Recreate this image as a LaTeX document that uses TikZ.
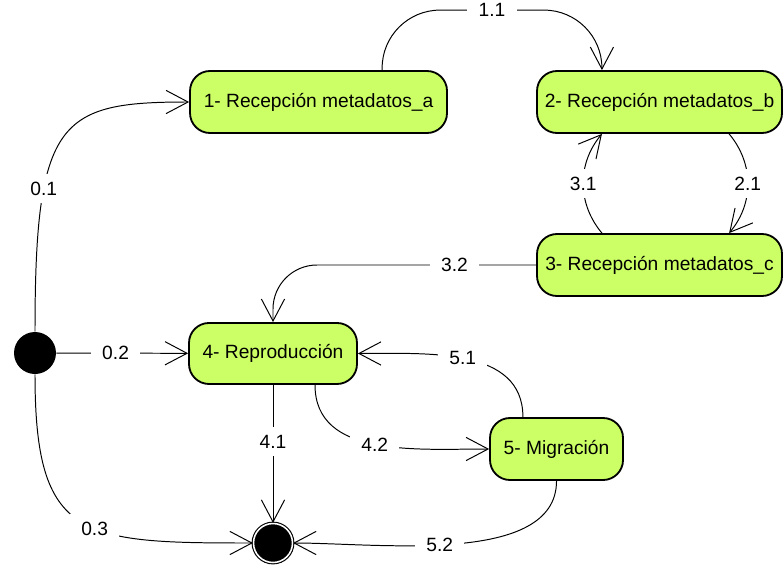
\documentclass[tikz,border=0pt]{standalone}
\usepackage{fontspec}
\setmainfont{Liberation Sans}
\usetikzlibrary{arrows.meta}
\definecolor{verdeestado}{RGB}{204,255,102}
\tikzset{
  estado/.style={draw=black, line width=1.3pt, fill=verdeestado, rounded corners=0.5cm,
    minimum height=1.55cm, inner sep=0pt},
  inicio/.style={circle, fill=black, minimum size=1.05cm, inner sep=0pt},
  fin/.style={circle, draw=black, fill=black, line width=0.8pt, double=white,
    double distance=1.1pt, minimum size=0.975cm, inner sep=0pt},
  trans/.style={->, line width=0.7pt},
  etiq/.style={fill=white, inner xsep=0.28cm, inner ysep=0.19cm, rounded corners=0pt}
}

\begin{document}
\begin{tikzpicture}[font=\fontsize{13.66}{16}\selectfont,
  >={Straight Barb[length=0.55cm, width=0.58cm]}]
\useasboundingbox (0,0) rectangle (19.6,14.1);
\node[inicio] (ini) at (0.875,5.275) {};
\node[estado, minimum width=6.425cm] (e1) at (7.963,11.550) {1- Recepción metadatos\_a};
\node[estado, minimum width=6.125cm] (e2) at (16.488,11.550) {2- Recepción metadatos\_b};
\node[estado, minimum width=6.125cm] (e3) at (16.488,7.475) {3- Recepción metadatos\_c};
\node[estado, minimum width=4.200cm, minimum height=1.525cm] (e4) at (6.825,5.263) {4- Reproducción};
\node[estado, minimum width=3.325cm] (e5) at (13.913,2.875) {5- Migración};
\node[fin] (fin) at (6.825,0.525) {};
\draw[trans] (ini.north) .. controls +(0,5.3) and +(-3.25,0) .. node[etiq,pos=0.3]{0.1} (e1.west);
\draw[trans] (ini) -- node[etiq,pos=0.45]{0.2} (e4);
\draw[trans] (ini.south) .. controls +(0,-4.15) and +(-4.3,0) .. node[etiq,pos=0.57]{0.3} (fin.west);
\draw[trans, rounded corners=1.45cm] ([xshift=1.59cm]e1.north) -- ++(0,1.5) -| node[etiq,pos=0.25]{1.1} ([xshift=-1.44cm]e2.north);
\draw[trans] ([xshift=1.74cm]e2.south) to[bend left=40] node[etiq]{2.1} ([xshift=1.74cm]e3.north);
\draw[trans] ([xshift=-1.44cm]e3.north) to[bend left=40] node[etiq]{3.1} ([xshift=-1.44cm]e2.south);
\draw[trans, rounded corners=1.1cm] (e3.west) -| node[etiq,pos=0.155]{3.2} (e4.north);
\draw[trans] (e4) -- node[etiq,pos=0.41]{4.1} (fin);
\draw[trans] ([xshift=1.05cm]e4.south) .. controls +(0,-1.825) and +(-1.825,0) .. node[etiq,pos=0.5]{4.2} (e5.west);
\draw[trans] ([xshift=-0.84cm]e5.north) .. controls +(0,1.75) and +(1.75,0) .. node[etiq,pos=0.52]{5.1} (e4.east);
\draw[trans] (e5.south) .. controls +(0,-2.125) and +(2.125,0) .. node[etiq,pos=0.55]{5.2} (fin.east);
\end{tikzpicture}
\end{document}
